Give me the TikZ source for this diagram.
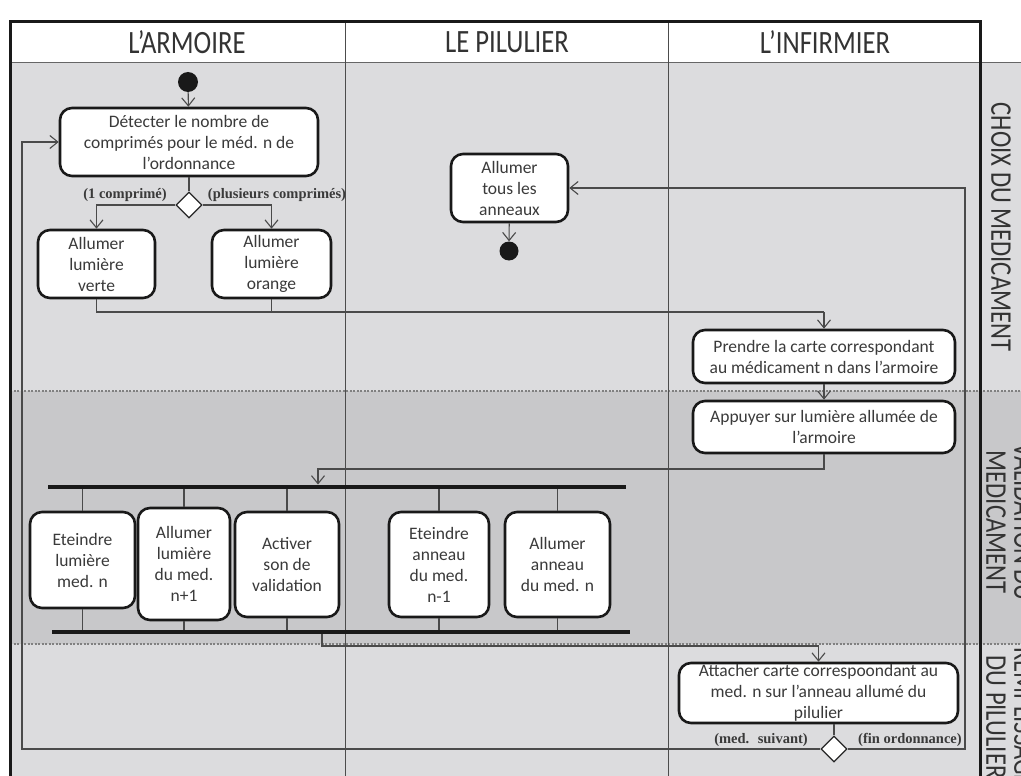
\documentclass[tikz,border=0pt]{standalone}
\usepackage{fontspec}
\setmainfont{Carlito}
\newfontfamily\lanefont{Carlito}[FakeStretch=0.82]
\newfontfamily\guardfont{Liberation Serif}
\usepackage{tikz}
\usetikzlibrary{positioning, shapes.geometric, arrows.meta, calc}
\definecolor{laneA}{HTML}{DCDCDE}
\definecolor{laneB}{HTML}{C8C8CA}
\definecolor{ink}{HTML}{3A3A3A}
\definecolor{wire}{HTML}{4A4A4A}

\begin{document}
\begin{tikzpicture}[
    x = 1pt, y = -1pt,
    action/.style = {draw=black!90, line width=2.6pt, rounded corners=12pt, fill=white, text=ink,
        align=center, inner sep=2pt, font=\fontsize{17.5}{21}\selectfont},
    dot/.style = {circle, fill=black!90, inner sep=0pt, minimum size=20pt},
    choice/.style = {diamond, draw=black!85, line width=1.2pt, fill=white, inner sep=0pt,
        minimum width=26pt, minimum height=26pt},
    bar/.style = {fill=black!90, inner sep=0pt, minimum height=4.5pt, minimum width=578pt},
    guard/.style = {text=ink, font=\guardfont\bfseries\fontsize{14.5}{16}\selectfont},
    lane/.style = {text=black!80, font=\lanefont\fontsize{32.5}{34}\selectfont},
    strip/.style = {lane, rotate=-90, align=center, font=\lanefont\fontsize{30}{28}\selectfont},
    line/.style = {draw=wire, line width=1.1pt},
    arr/.style = {line, -{Straight Barb[length=8pt, width=13pt]}}
]
\useasboundingbox (0,0) rectangle (1021,776);
\clip (0,0) rectangle (1021,776);

% Lanes
\fill[white] (0,0) rectangle (1021,62);
\fill[laneA] (10,62) rectangle (1021,391);
\fill[laneB] (10,391) rectangle (1021,644);
\fill[laneA] (10,644) rectangle (1021,776);
\draw[black!60, line width=0.9pt] (10,62) -- (1021,62);
\draw[gray, line width=1.6pt, dash pattern=on 2pt off 1.5pt] (10,391) -- (1021,391);
\draw[gray, line width=1.6pt, dash pattern=on 2pt off 1.5pt] (10,644) -- (1021,644);
\draw[black!70, line width=0.9pt] (345,22) -- (345,776);
\draw[black!70, line width=0.9pt] (668,22) -- (668,776);
\draw[black!90, line width=3pt] (10,776) -- (10,22) -- (980,22) -- (980,776);

\node[lane] (armoire) at (187,42) {L’ARMOIRE};
\node[lane] (pilulier) at (507,42) {LE PILULIER};
\node[lane] (infirmier) at (825,42) {L’INFIRMIER};

\node[strip] (choix) at (1001,227) {CHOIX DU MEDICAMENT};
\node[strip] (valid) at (1010,522) {VALIDATION DU\\MEDICAMENT};
\node[strip] (remp) at (1010,717) {REMPLISSAGE\\DU PILULIER};

% Choix du medicament
\node[dot] (start) at (188,82) {};
\node[action, minimum width=258pt, minimum height=68pt] (detect) at (189,142)
    {Détecter le nombre de\\comprimés pour le méd. n de\\l’ordonnance};
\node[choice] (pick) at (189,205) {};
\node[guard] (g1) at (125,195) {(1 comprimé)};
\node[guard] (g2) at (277,195) {(plusieurs comprimés)};
\node[action, minimum width=117pt, minimum height=68pt] (green) at (96.5,264) {Allumer\\lumière\\verte};
\node[action, minimum width=119pt, minimum height=68pt] (amber) at (271.5,264) {Allumer\\lumière\\orange};

\node[action, minimum width=117pt, minimum height=68pt] (rings) at (509.5,188) {Allumer\\tous les\\anneaux};
\node[dot, minimum size=19pt] (stop) at (509,251) {};

\node[action, minimum width=262pt, minimum height=53pt] (take) at (824,356.5)
    {Prendre la carte correspondant\\au médicament n dans l’armoire};

% Validation du medicament
\node[action, minimum width=262pt, minimum height=52pt] (press) at (824,427)
    {Appuyer sur lumière allumée de\\l’armoire};
\node[bar] (fork) at (337,487) {};
\node[bar] (join) at (341,632) {};

\node[action, minimum width=105pt, minimum height=96pt] (offlight) at (82.5,560) {Eteindre\\lumière\\med. n};
\node[action, minimum width=92pt, minimum height=112pt] (nextlight) at (184,564) {Allumer\\lumière\\du med.\\n+1};
\node[action, minimum width=104pt, minimum height=105pt] (beep) at (287,564.5) {Activer\\son de\\validation};
\node[action, minimum width=100pt, minimum height=105pt] (offring) at (439,564.5) {Eteindre\\anneau\\du med.\\n-1};
\node[action, minimum width=105pt, minimum height=105pt] (onring) at (557.5,564.5) {Allumer\\anneau\\du med. n};

% Remplissage du pilulier
\node[action, minimum width=279pt, minimum height=60pt, inner ysep=-4pt] (attach) at (818.5,693)
    {Attacher carte correspoondant au\\med. n sur l’anneau allumé du\\pilulier};
\node[choice] (again) at (834,749) {};
\node[guard] (g3) at (761,740) {(med.~ suivant)};
\node[guard] (g4) at (910,740) {(fin ordonnance)};

% Flows
\draw[arr] (start) -- (detect);
\draw[line] (detect) -- (pick);
\draw[arr] (pick.west) -| (green.north);
\draw[arr] (pick.east) -| (amber.north);
\draw[arr] (rings) -- (stop);

\coordinate (merge) at (824,312);
\draw[line] (green) |- (merge);
\draw[line] (amber) |- (merge);
\draw[arr] (merge) -- (take);
\draw[arr] (take) -- (press);

\coordinate (turn1) at (318,469);
\draw[arr] (press) |- (turn1) -- (turn1 |- fork.north);
\foreach \a in {offlight, nextlight, beep, offring, onring} {
    \draw[line] (fork.south -| \a.north) -- (\a.north);
    \draw[line] (\a.south) -- (join.north -| \a.south);
}

\coordinate (turn2) at (322,646);
\draw[arr] (join.south -| turn2) -- (turn2) -| (attach.north);
\draw[line] (attach.south -| again) -- (again);

\coordinate (loopL) at (22,749);
\coordinate (loopR) at (965,749);
\draw[arr] (again.west) -- (loopL) |- (detect.west);
\draw[arr] (again.east) -- (loopR) |- (rings.east);

\end{tikzpicture}
\end{document}
